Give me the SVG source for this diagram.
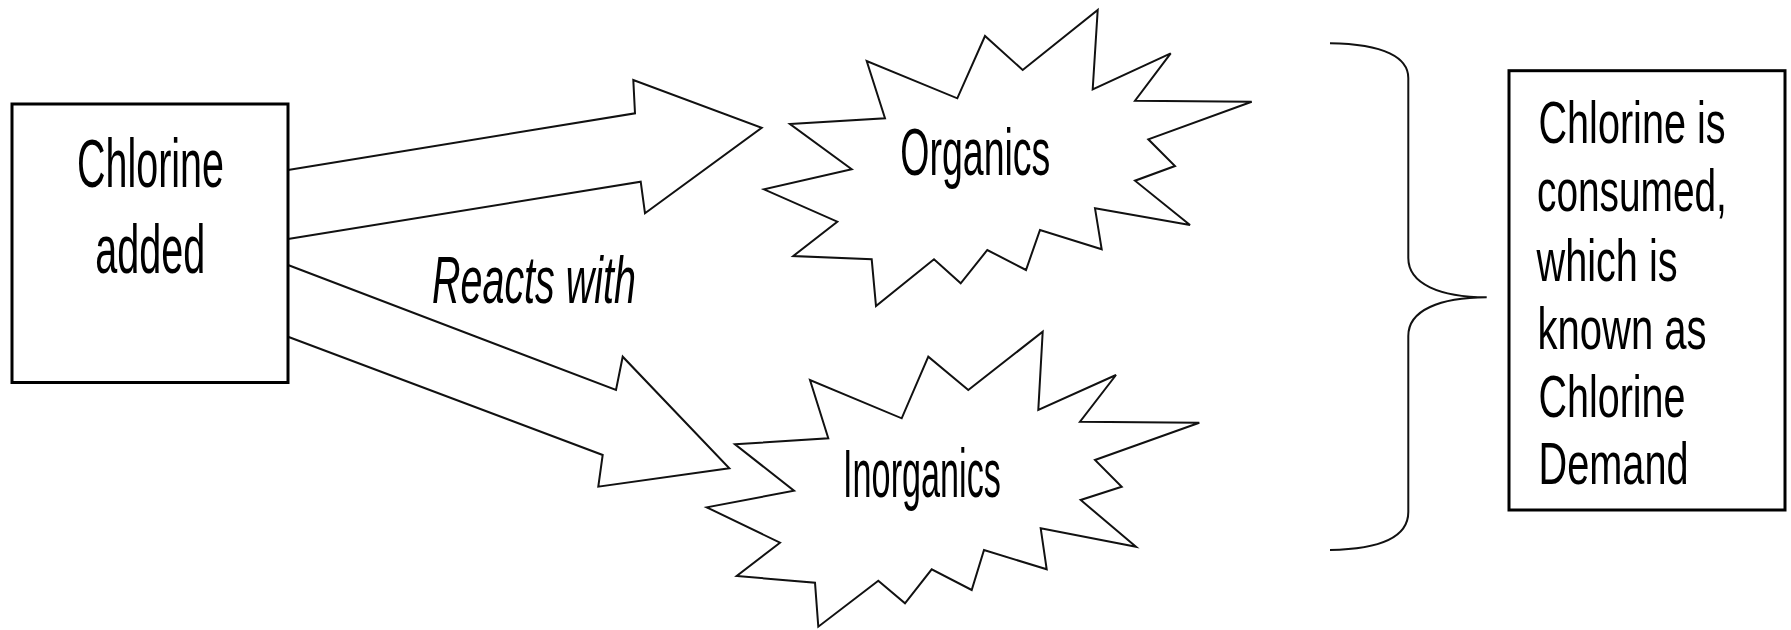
<svg xmlns="http://www.w3.org/2000/svg" width="1791" height="630" viewBox="0 0 1791 630">
  <style>
    .box { fill: #ffffff; stroke: #000000; stroke-width: 3; }
    .star { fill: #ffffff; stroke: #111111; stroke-width: 2; stroke-linejoin: miter; }
    .arrow { fill: #ffffff; stroke: #111111; stroke-width: 2; stroke-linejoin: miter; }
    .brace { fill: none; stroke: #111111; stroke-width: 2; }
    .t { font-family: "Liberation Sans", Arial, sans-serif; fill: #000000; }
    .mid { text-anchor: middle; }
    .r { font-size: 60px; }
  </style>
  <rect width="1791" height="630" fill="#ffffff"/>

  <g id="connectors">
    <polyline class="arrow" points="288,170 635,113.3 633.3,80 761.7,127.7 645,213.3 640.7,181.7 288,239"/>
    <polyline class="arrow" points="288,265 616,390 622.7,356.7 729.3,468.3 598.3,486.7 602.7,455 288,336.7"/>
    <text class="t" transform="translate(432,302.7) scale(0.598,1)" x="0" y="0" font-size="66" font-style="italic">Reacts with</text>
    <path class="brace" d="M1330,43.3 C1385,44 1408.3,58 1408.3,78 L1408.3,258 C1408.3,284 1440,297 1486.7,297.3 C1440,297.6 1408.3,310 1408.3,336 L1408.3,512 C1408.3,535 1385,549 1330,550"/>
  </g>

  <g id="node-chlorine-added">
    <rect class="box" x="12" y="104" width="276" height="278.5"/>
    <text class="t mid" transform="translate(150.5,187) scale(0.58,1)" x="0" y="0" font-size="68">Chlorine</text>
    <text class="t mid" transform="translate(150.3,272.7) scale(0.582,1)" x="0" y="0" font-size="68">added</text>
  </g>

  <g id="node-organics">
    <polygon class="star" points="790,124 885,118.3 866.7,61 957.3,98.3 985,36 1022.7,70 1097.7,10 1092.7,89.3 1170.7,53.3 1135,100.7 1251.7,101.7 1148.3,139.3 1175,166 1135,180.7 1190,225 1095,208.3 1101.7,249.3 1040,230 1026,270 987.3,250 960.7,283.3 934,259.3 876,306 871.7,259.3 793.3,256 837.3,221.7 764,189.3 851.7,169.3"/>
    <text class="t mid" transform="translate(975.3,175) scale(0.56,1)" x="0" y="0" font-size="67">Organics</text>
  </g>

  <g id="node-inorganics">
    <polygon class="star" points="735,444.3 828.3,438.3 810,380 901.7,418.3 928.3,356.7 968.3,390 1042.7,331.7 1038.3,410 1116,375 1080,421.7 1199.3,422.7 1095,460 1121.7,486.7 1080.7,500 1136,546.7 1040.7,528.3 1046.7,569.3 984,550 971.7,590 931.7,569.3 905,603.3 878.3,580.7 818.3,626.7 815,582.7 736.7,576 780,542.7 706.7,507.3 794,490.7"/>
    <text class="t mid" transform="translate(922,497.3) scale(0.496,1)" x="0" y="0" font-size="69">Inorganics</text>
  </g>

  <g id="node-chlorine-demand">
    <rect class="box" x="1509" y="70.7" width="276" height="439.3"/>
    <text class="t r" transform="translate(1538.5,142.7) scale(0.66,1)" x="0" y="0">Chlorine is</text>
    <text class="t r" transform="translate(1537,211) scale(0.647,1)" x="0" y="0">consumed,</text>
    <text class="t r" transform="translate(1536.5,280.7) scale(0.661,1)" x="0" y="0">which is</text>
    <text class="t r" transform="translate(1537.5,349) scale(0.667,1)" x="0" y="0">known as</text>
    <text class="t r" transform="translate(1538.5,416.7) scale(0.658,1)" x="0" y="0">Chlorine</text>
    <text class="t r" transform="translate(1538.5,484) scale(0.662,1)" x="0" y="0">Demand</text>
  </g>
</svg>
